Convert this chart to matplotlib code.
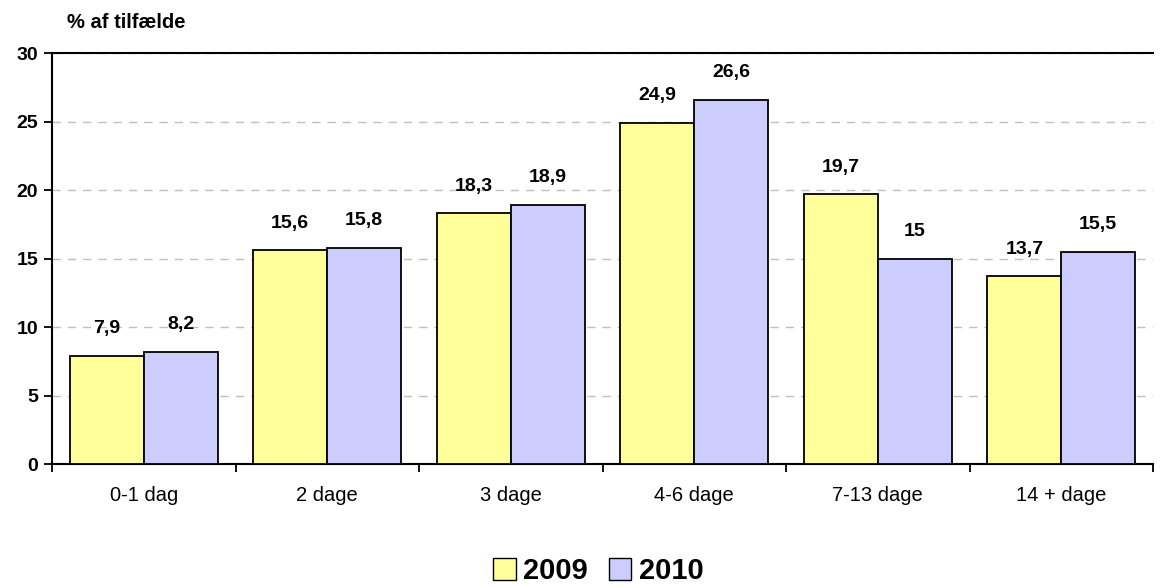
import matplotlib.pyplot as plt
import numpy as np
from matplotlib.patches import Patch

plt.rcParams['font.family'] = ['Liberation Sans', 'DejaVu Sans']

# Data
categories = ['0-1 dag', '2 dage', '3 dage', '4-6 dage', '7-13 dage', '14 + dage']
values_2009 = [7.9, 15.6, 18.3, 24.9, 19.7, 13.7]
values_2010 = [8.2, 15.8, 18.9, 26.6, 15.0, 15.5]
labels_2009 = ['7,9', '15,6', '18,3', '24,9', '19,7', '13,7']
labels_2010 = ['8,2', '15,8', '18,9', '26,6', '15', '15,5']

color_2009 = '#FFFF99'
color_2010 = '#CCCCFF'

fig = plt.figure(figsize=(11.64, 5.87), dpi=100)
ax = fig.add_axes([0.0447, 0.2095, 0.9459, 0.7002])

x = np.arange(len(categories))
w = 0.403
bars1 = ax.bar(x - w / 2, values_2009, w, color=color_2009, edgecolor='black', linewidth=1.3, zorder=3)
bars2 = ax.bar(x + w / 2, values_2010, w, color=color_2010, edgecolor='black', linewidth=1.3, zorder=3)

# value labels above bars
for bars, labs in [(bars1, labels_2009), (bars2, labels_2010)]:
    for b, lab in zip(bars, labs):
        ax.annotate(lab, (b.get_x() + b.get_width() / 2, b.get_height()),
                    xytext=(0, 19.5), textcoords='offset points',
                    ha='center', va='center', fontsize=14, fontweight='bold')

ax.set_xlim(-0.5, len(categories) - 0.5)
ax.set_ylim(0, 30)
ax.set_yticks(range(0, 31, 5))
ax.tick_params(axis='y', labelsize=14, length=6, width=1.3, direction='out', pad=4)
for t in ax.get_yticklabels():
    t.set_fontweight('bold')

# category ticks at boundaries, labels in the middle
ax.set_xticks(np.arange(len(categories) + 1) - 0.5)
ax.set_xticklabels([])
ax.set_xticks(x, minor=True)
ax.set_xticklabels(categories, minor=True, fontsize=14.5)
ax.tick_params(axis='x', which='major', length=6, width=1.3, direction='out')
ax.tick_params(axis='x', which='minor', length=0, pad=16)

ax.yaxis.grid(True, linestyle=(0, (6, 5)), color='#C0C0C0', linewidth=1, zorder=0)
for s in ['left', 'bottom', 'top']:
    ax.spines[s].set_linewidth(1.5)
    ax.spines[s].set_color('black')
ax.spines['right'].set_visible(False)

fig.text(0.0575, 0.9625, '% af tilfælde', fontsize=14.5, fontweight='bold', ha='left', va='center')

handles = [Patch(facecolor=color_2009, edgecolor='black', label='2009'),
           Patch(facecolor=color_2010, edgecolor='black', label='2010')]
fig.legend(handles=handles, loc='center', bbox_to_anchor=(0.514, 0.027), ncol=2, frameon=False,
           prop={'size': 21, 'weight': 'bold'}, handlelength=0.78, handleheight=0.78,
           handletextpad=0.25, columnspacing=0.7, borderaxespad=0, borderpad=0)

fig.savefig('out.png', dpi=100)
